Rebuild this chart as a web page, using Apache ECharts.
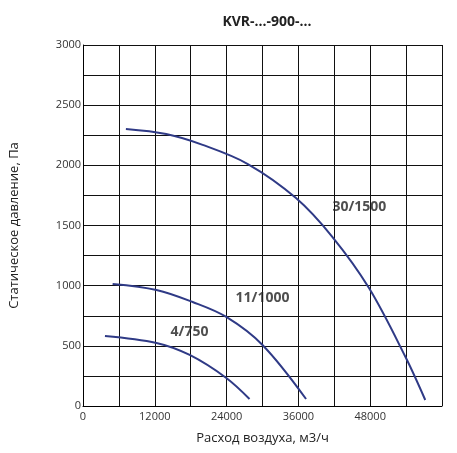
<!DOCTYPE html><html><head><meta charset="utf-8"><script src="https://cdn.jsdelivr.net/npm/echarts@6/dist/echarts.min.js"></script></head><body style="margin:0"><div id="c" style="width:457px;height:453px"></div><script>
const s1500=[[7170,2302],[13900,2260],[20000,2170],[27550,2011],[35600,1728],[41700,1404],[47800,980],[53900,407],[57200,50]];
const s1000=[[4950,1014],[12280,964],[18330,864],[23950,740],[30000,507],[37280,58]];
const s750=[[3670,582],[12280,524],[17830,424],[23950,233],[27830,58]];
const labels=[[46200,1654,'30/1500'],[30000,898,'11/1000'],[17800,615,'4/750']];
const ch=echarts.init(document.getElementById('c'));
const lineS=d=>({type:'line',data:d,smooth:0.35,symbol:'none',lineStyle:{color:'#2f3a86',width:2}});
ch.setOption({animation:false,
title:{text:'KVR-...-900-...',left:262,top:10,textAlign:'center',textStyle:{fontFamily:'Open Sans',fontSize:14,fontWeight:'bold',color:'#222'}},
grid:{left:83,right:15,top:45,bottom:47},
xAxis:{type:'value',min:0,max:60000,interval:6000,name:'Расход воздуха, м3/ч',nameLocation:'middle',nameGap:26,nameTextStyle:{fontFamily:'Open Sans',fontSize:13,color:'#222'},
axisLine:{lineStyle:{color:'#000'}},axisTick:{show:false},
axisLabel:{fontFamily:'Open Sans',fontSize:11,color:'#333',margin:5,formatter:v=>v%12000===0?String(v):'',showMaxLabel:false},
splitLine:{lineStyle:{color:'#111',width:1}}},
yAxis:{type:'value',min:0,max:3000,interval:250,name:'Статическое давление, Па',nameLocation:'middle',nameGap:62,nameTextStyle:{fontFamily:'Open Sans',fontSize:13,color:'#222'},
axisLine:{lineStyle:{color:'#000'}},axisTick:{show:false},
axisLabel:{fontFamily:'Open Sans',fontSize:11,color:'#333',margin:2,formatter:v=>v%500===0?String(v):''},
splitLine:{lineStyle:{color:'#111',width:1}}},
series:[lineS(s1500),lineS(s1000),lineS(s750),
{type:'scatter',symbolSize:0,data:labels.map(l=>({value:[l[0],l[1]],name:l[2]})),
label:{show:true,position:'inside',formatter:p=>p.name,fontFamily:'Open Sans',fontSize:14,fontWeight:'bold',color:'#222'}}]});
</script></body></html>
